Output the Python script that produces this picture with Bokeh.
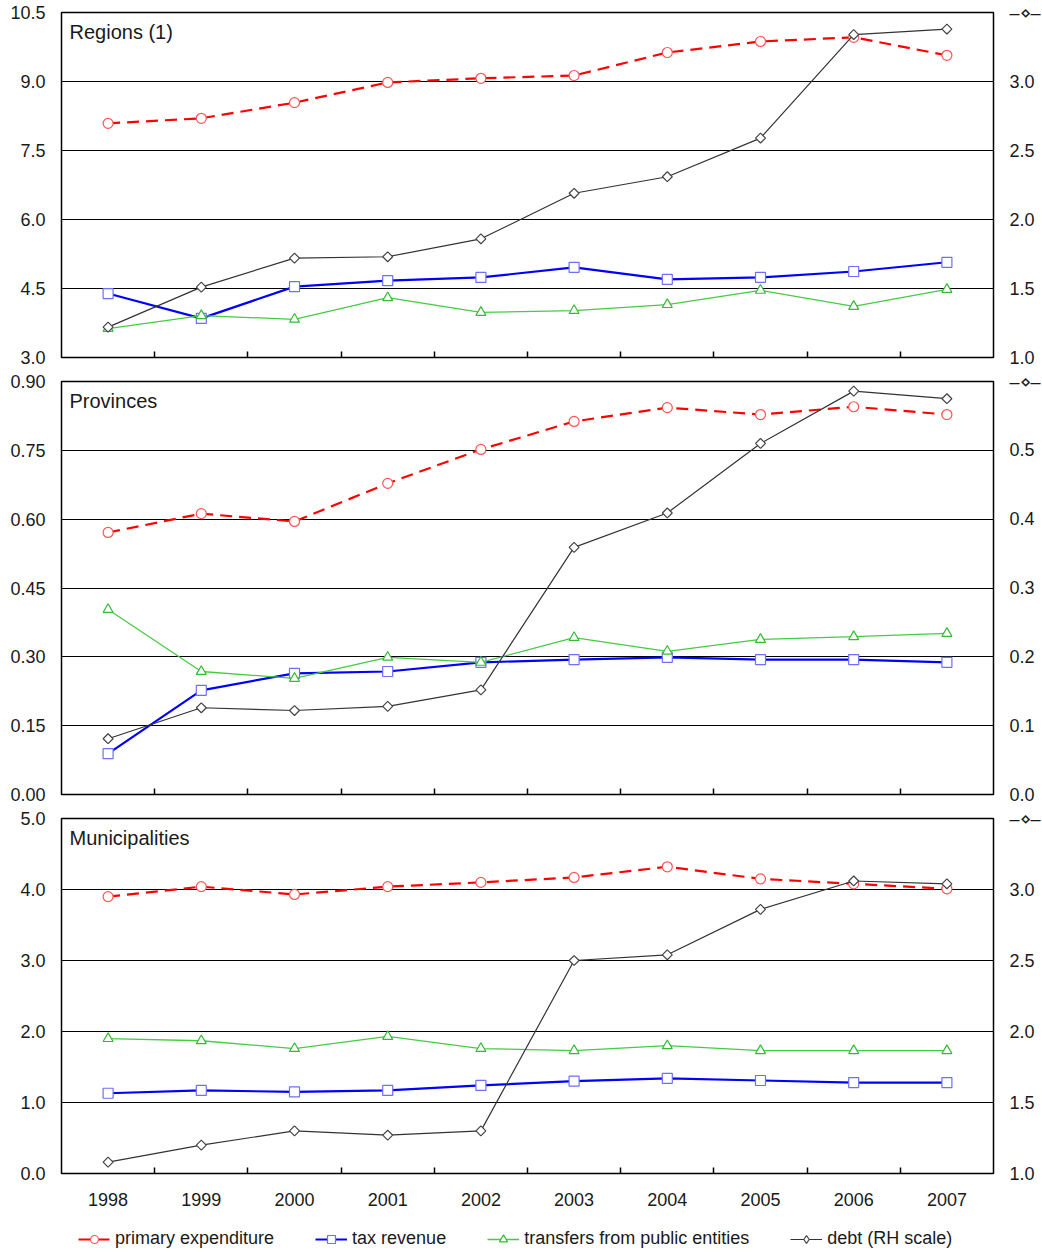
import math
from bokeh.plotting import figure
from bokeh.models import (Range1d, LinearAxis, FixedTicker, Label, Legend, LegendItem)
from bokeh.layouts import column
from bokeh.embed import file_html
from bokeh.resources import INLINE

years = [1998, 1999, 2000, 2001, 2002, 2003, 2004, 2005, 2006, 2007]

# Regions (1)
reg_primary = [8.09, 8.20, 8.54, 8.98, 9.07, 9.13, 9.63, 9.87, 9.96, 9.57]
reg_tax = [4.39, 3.85, 4.54, 4.67, 4.74, 4.96, 4.70, 4.74, 4.87, 5.07]
reg_transfers = [3.63, 3.91, 3.83, 4.30, 3.98, 4.02, 4.15, 4.46, 4.11, 4.48]
reg_debt = [1.22, 1.51, 1.72, 1.73, 1.86, 2.19, 2.31, 2.59, 3.34, 3.38]

# Provinces
prov_primary = [0.571, 0.612, 0.595, 0.678, 0.752, 0.813, 0.843, 0.828, 0.845, 0.828]
prov_tax = [0.089, 0.227, 0.264, 0.268, 0.288, 0.294, 0.299, 0.294, 0.294, 0.288]
prov_transfers = [0.403, 0.268, 0.253, 0.299, 0.288, 0.342, 0.312, 0.338, 0.344, 0.351]
prov_debt = [0.081, 0.126, 0.122, 0.128, 0.152, 0.359, 0.409, 0.510, 0.586, 0.575]

# Municipalities
mun_primary = [3.90, 4.04, 3.93, 4.04, 4.10, 4.17, 4.32, 4.15, 4.08, 4.01]
mun_tax = [1.13, 1.17, 1.15, 1.17, 1.24, 1.30, 1.34, 1.31, 1.28, 1.28]
mun_transfers = [1.90, 1.87, 1.76, 1.93, 1.76, 1.73, 1.80, 1.73, 1.73, 1.73]
mun_debt = [1.08, 1.20, 1.30, 1.27, 1.30, 2.50, 2.54, 2.86, 3.06, 3.04]

panel_titles = ["Regions (1)", "Provinces", "Municipalities"]
left_ticks = [[3.0, 4.5, 6.0, 7.5, 9.0, 10.5],
              [0.0, 0.15, 0.30, 0.45, 0.60, 0.75, 0.90],
              [0.0, 1.0, 2.0, 3.0, 4.0, 5.0]]
left_fmt = ["{:.1f}", "{:.2f}", "{:.1f}"]
right_ticks = [[1.0, 1.5, 2.0, 2.5, 3.0, 3.5],
               [0.0, 0.1, 0.2, 0.3, 0.4, 0.5, 0.6],
               [1.0, 1.5, 2.0, 2.5, 3.0, 3.5]]
series_labels = ["primary expenditure", "tax revenue",
                 "transfers from public entities", "debt (RH scale)"]
rh_marker = "\u2013\u22c4\u2013"

data = [
    (reg_primary, reg_tax, reg_transfers, reg_debt),
    (prov_primary, prov_tax, prov_transfers, prov_debt),
    (mun_primary, mun_tax, mun_transfers, mun_debt),
]

FONT = "Liberation Sans"
TXT = "#1a1a1a"
frame_h = [345, 413, 355]
tops = [12, 12, 12]
bottoms = [12, 12, 0]

# series styles: (line kwargs, marker kwargs)
styles = [
    (dict(line_color="#ff0000", line_width=2.2, line_dash="12 7"),
     dict(marker="circle", size=10, fill_color="white", line_color="#ff5555", line_width=1.2)),
    (dict(line_color="#0000ff", line_width=2.2),
     dict(marker="square", size=10, fill_color="white", line_color="#6f6fff", line_width=1.2)),
    (dict(line_color="#44cc44", line_width=1.3),
     dict(marker="triangle", size=10, fill_color="white", line_color="#33bb33", line_width=1.2)),
    (dict(line_color="#333333", line_width=1.2),
     dict(marker="square", angle=math.pi / 4, size=7, fill_color="white",
          line_color="#444444", line_width=1.2)),
]
legend_debt_marker = dict(marker="diamond", size=9, fill_color="white",
                          line_color="#444444", line_width=1.2)

figs = []
for i in range(3):
    lt = left_ticks[i]
    rt = right_ticks[i]
    p = figure(frame_width=932, frame_height=frame_h[i],
               x_range=Range1d(1997.5, 2007.5),
               y_range=Range1d(lt[0], lt[-1]),
               output_backend="svg", toolbar_location=None,
               min_border_left=61, min_border_right=43,
               min_border_top=tops[i], min_border_bottom=bottoms[i],
               x_axis_location=None, y_axis_location=None)
    p.extra_y_ranges = {"debt": Range1d(rt[0], rt[-1])}
    p.outline_line_color = "black"
    p.outline_line_width = 1.5
    p.background_fill_color = "white"
    p.border_fill_color = "white"

    # left axis
    la = LinearAxis(ticker=FixedTicker(ticks=lt, minor_ticks=[]))
    la.major_label_overrides = {t: left_fmt[i].format(t) for t in lt}
    la.axis_line_color = None
    la.major_tick_line_color = None
    la.minor_tick_line_color = None
    la.major_label_standoff = 10
    la.major_label_text_font = FONT
    la.major_label_text_font_size = "18px"
    la.major_label_text_color = TXT
    p.add_layout(la, "left")

    # right axis
    ra = LinearAxis(y_range_name="debt", ticker=FixedTicker(ticks=rt, minor_ticks=[]))
    ov = {t: "{:.1f}".format(t) for t in rt}
    ov[rt[-1]] = rh_marker
    ra.major_label_overrides = ov
    ra.axis_line_color = None
    ra.major_tick_line_color = None
    ra.minor_tick_line_color = None
    ra.major_label_standoff = 10
    ra.major_label_text_font = FONT
    ra.major_label_text_font_size = "18px"
    ra.major_label_text_color = TXT
    p.add_layout(ra, "right")

    # bottom axis: inward ticks between years
    half = [y + 0.5 for y in years[:-1]]
    if i == 2:
        xt = FixedTicker(ticks=years, minor_ticks=half)
    else:
        xt = FixedTicker(ticks=[], minor_ticks=half)
    xa = LinearAxis(ticker=xt)
    xa.axis_line_color = None
    xa.major_tick_line_color = None
    xa.minor_tick_in = 6
    xa.minor_tick_out = 0
    xa.minor_tick_line_color = "black"
    xa.minor_tick_line_width = 1.5
    xa.major_label_overrides = {y: str(y) for y in years}
    xa.major_label_standoff = 13
    xa.major_label_text_font = FONT
    xa.major_label_text_font_size = "18px" if i == 2 else "0px"
    xa.major_label_text_color = TXT
    p.add_layout(xa, "below")

    p.xgrid.visible = False
    p.ygrid.ticker = FixedTicker(ticks=lt)
    p.ygrid.grid_line_color = "black"
    p.ygrid.grid_line_width = 1

    series = data[i]
    for k in range(4):
        lk, mk = styles[k]
        extra = dict(y_range_name="debt") if k == 3 else {}
        p.line(years, series[k], **lk, **extra)
        p.scatter(years, series[k], **mk, **extra)

    # panel title
    p.add_layout(Label(x=1997.5, y=lt[-1], x_offset=8, y_offset=-19,
                       text=panel_titles[i], text_baseline="middle",
                       text_align="left", text_font=FONT,
                       text_font_size="20px", text_color=TXT))
    figs.append(p)

# legend strip (legend stand-in renderers hold one NaN point: nothing drawn)
nan = float("nan")
pl = figure(frame_width=932, frame_height=42,
            x_range=Range1d(0, 1), y_range=Range1d(0, 1),
            output_backend="svg", toolbar_location=None,
            min_border_left=61, min_border_right=43,
            min_border_top=0, min_border_bottom=0,
            x_axis_location=None, y_axis_location=None)
pl.outline_line_color = None
pl.xgrid.visible = False
pl.ygrid.visible = False
items = []
for k in range(4):
    lk, mk = styles[k]
    if k == 3:
        mk = legend_debt_marker
    rl = pl.line([nan], [nan], **lk)
    rs = pl.scatter([nan], [nan], **mk)
    items.append(LegendItem(label=series_labels[k], renderers=[rl, rs]))
legend = Legend(items=items, orientation="horizontal",
                location=(17, 1), border_line_color=None,
                background_fill_alpha=0, padding=0, margin=0,
                glyph_width=32, glyph_height=20, label_standoff=5, spacing=41,
                label_text_font=FONT, label_text_font_size="18px",
                label_text_color=TXT)
pl.add_layout(legend, "center")
figs.append(pl)

layout = column(*figs, spacing=0)
open("out.html", "w").write(file_html(layout, INLINE))
